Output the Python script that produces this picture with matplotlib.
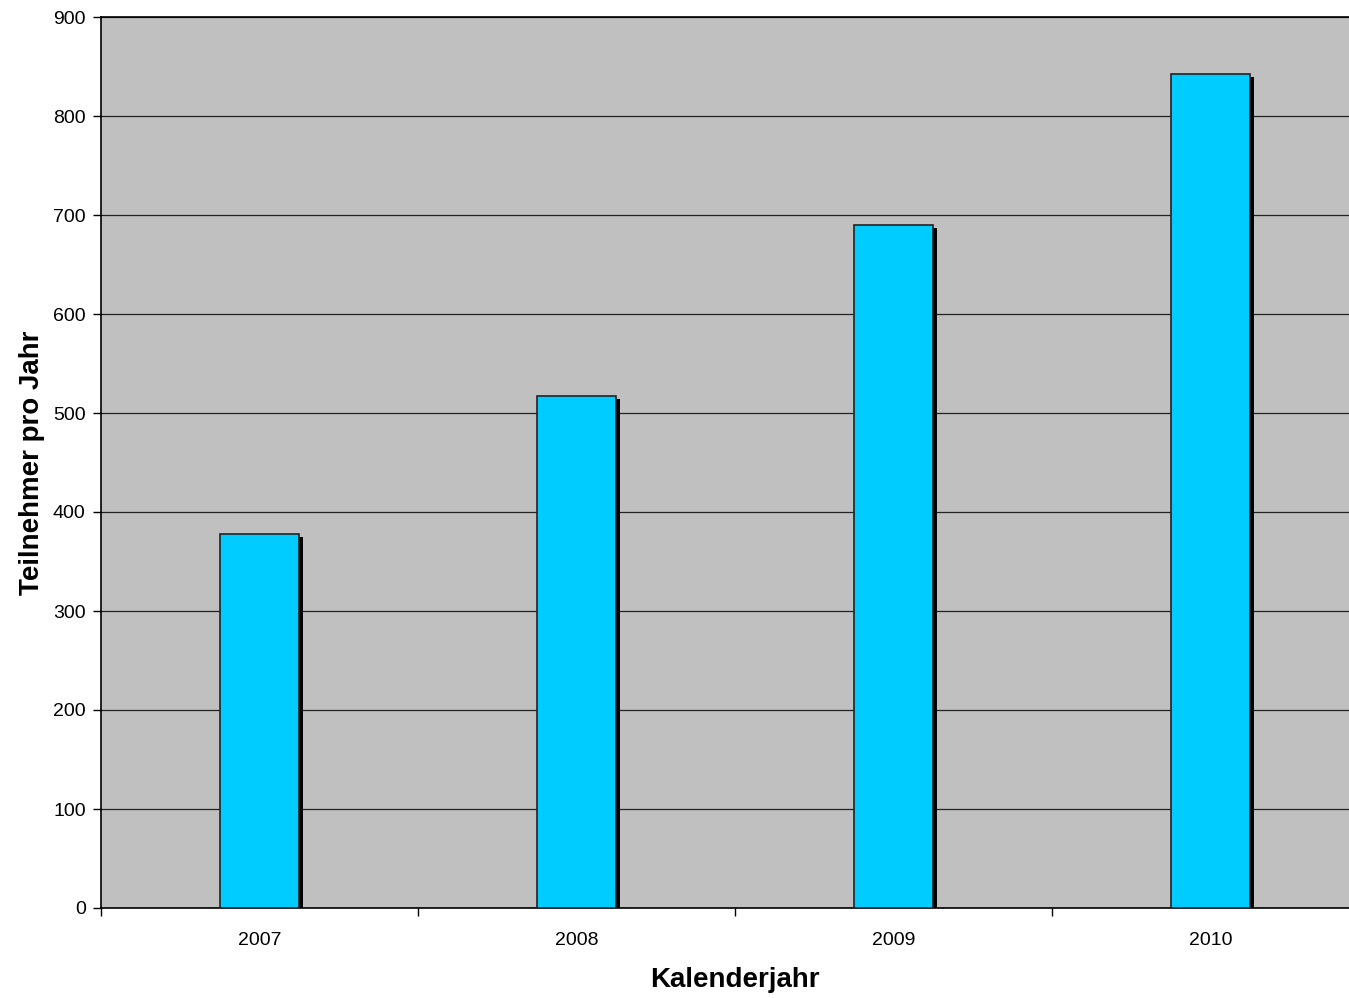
import matplotlib
matplotlib.use("Agg")
import matplotlib.pyplot as plt
import matplotlib.transforms as mtransforms
import numpy as np

plt.rcParams['font.family'] = ['Liberation Sans', 'DejaVu Sans']

years = ["2007", "2008", "2009", "2010"]
participants = [378, 517, 690, 842]

fig = plt.figure(figsize=(13.49, 9.98), dpi=100)
ax = fig.add_axes([101/1349, 1-908/998, (4*317)/1349, (908-17)/998])
ax.set_facecolor('#C0C0C0')

x = np.arange(len(years))
w = 0.25
dpi = fig.dpi
shadow_tr = ax.transData + mtransforms.ScaledTranslation(4/dpi, -3/dpi, fig.dpi_scale_trans)
ax.bar(x, participants, width=w, color='black', transform=shadow_tr, zorder=2, linewidth=0)
ax.bar(x, participants, width=w, color='#00CCFF', edgecolor='#222222', linewidth=1.2, zorder=3)

ax.set_xlim(-0.5, len(years) - 0.5)
ax.set_ylim(0, 900)
ax.set_yticks(np.arange(0, 901, 100))
ax.yaxis.grid(True, color='#222222', linewidth=0.9)
ax.set_axisbelow(True)

ax.set_xticks(np.arange(-0.5, len(years) - 0.5 + 0.01, 1))
ax.set_xticklabels([])
ax.set_xticks(x, minor=True)
ax.set_xticklabels(years, minor=True)
ax.tick_params(axis='x', which='minor', length=0, pad=17, labelsize=14)
ax.tick_params(axis='x', which='major', length=6, direction='out', width=1)
ax.tick_params(axis='y', length=6, direction='out', labelsize=14, width=1, pad=5)

for s in ['left', 'bottom', 'top', 'right']:
    ax.spines[s].set_color('black')
    ax.spines[s].set_linewidth(1.2)

ax.set_xlabel('Kalenderjahr', fontsize=20, fontweight='bold', labelpad=13)
ax.set_ylabel('Teilnehmer pro Jahr', fontsize=20, fontweight='bold', labelpad=6)

fig.savefig('out.png', dpi=100)
